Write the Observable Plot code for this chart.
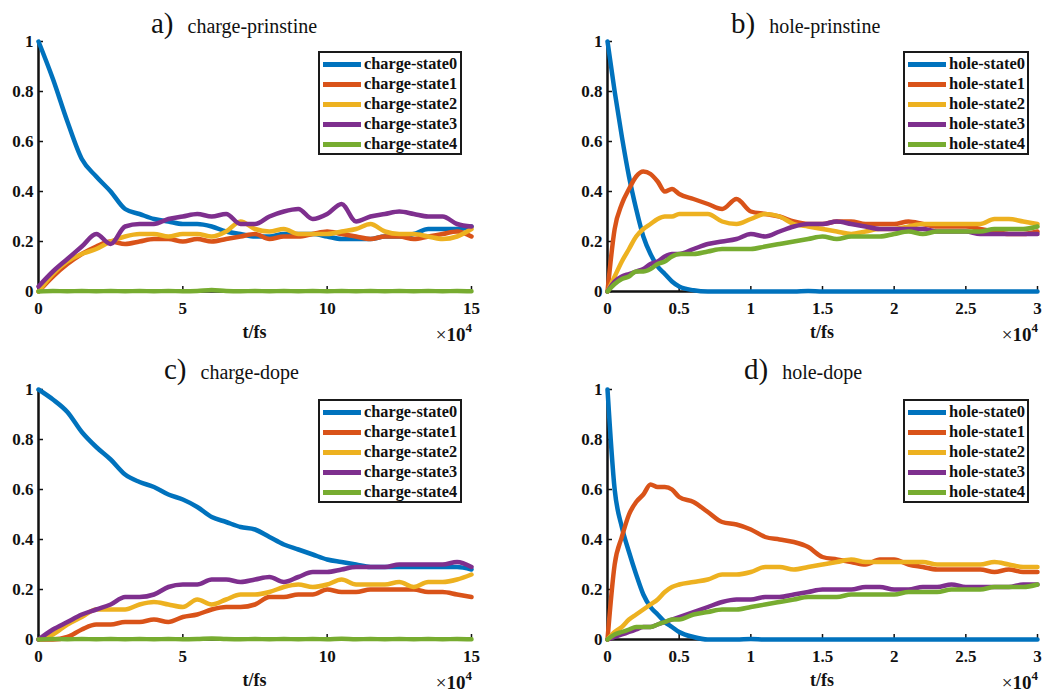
<!DOCTYPE html>
<html>
<head>
<meta charset="utf-8">
<script src="https://cdn.jsdelivr.net/npm/d3@7"></script>
<script src="https://cdn.jsdelivr.net/npm/@observablehq/plot@0.6"></script>
<style>
  html, body { margin: 0; padding: 0; background: #fff; }
  #root { position: relative; width: 1044px; height: 693px; background: #fff; overflow: hidden; }
  .panel { position: absolute; }
  .panel svg { overflow: visible; }
  .panel svg text { font-family: 'Liberation Serif', 'Times New Roman', serif !important; font-weight: bold !important; font-size: 17px !important; fill: #111; }
  .title { position: absolute; font-family: 'Liberation Serif', 'Times New Roman', serif; white-space: nowrap; color: #111; line-height: 30px; }
  .title .lab { font-size: 29px; }
  .title .name { font-size: 20px; margin-left: 14px; }
  .xlabel { position: absolute; font-family: 'Liberation Serif', serif; font-weight: bold; font-size: 18px; line-height: 20px; transform: translateX(-50%); color: #111; }
  .exp { position: absolute; font-family: 'Liberation Serif', serif; font-size: 19px; line-height: 12px; color: #111; font-weight: bold; white-space: nowrap; }
  .exp sup { font-size: 13px; line-height: 0; position: relative; top: -2px; }
  .legend { position: absolute; box-sizing: border-box; border: 2px solid #1a1a1a; background: #fff; padding-top: 1px; padding-left: 3px;
            font-family: 'Liberation Serif', serif; font-weight: bold; color: #111; }
  .legend .row { height: 20px; line-height: 20px; white-space: nowrap; display: flex; align-items: center; }
  .legend .sw { display: inline-block; width: 38px; height: 5px; margin-right: 3px; flex: none; }
</style>
</head>
<body>
<div id="root"></div>
<script>
// ---------------- data ----------------
const colors = ["#0072BD", "#D95319", "#EDB120", "#7E2F8E", "#77AC30"];
const chargeNames = ["charge-state0", "charge-state1", "charge-state2", "charge-state3", "charge-state4"];
const holeNames = ["hole-state0", "hole-state1", "hole-state2", "hole-state3", "hole-state4"];
const yTicks = [0, 0.2, 0.4, 0.6, 0.8, 1];
const chargeXTicks = [0, 5, 10, 15];
const holeXTicks = [0, 0.5, 1, 1.5, 2, 2.5, 3];

// time in units of 10^4 fs
const tCharge = [0,0.5,1,1.5,2,2.5,3,3.5,4,4.5,5,5.5,6,6.5,7,7.5,8,8.5,9,9.5,10,10.5,11,11.5,12,12.5,13,13.5,14,14.5,15];
const tHole = [0,0.05,0.1,0.15,0.2,0.25,0.3,0.35,0.4,0.45,0.5,0.6,0.7,0.8,0.9,1.0,1.1,1.2,1.3,1.4,1.5,1.6,1.7,1.8,1.9,2.0,2.1,2.2,2.3,2.4,2.5,2.6,2.7,2.8,2.9,3.0];

// a) charge-prinstine
const cp0 = [1.0,0.85,0.68,0.53,0.46,0.40,0.33,0.31,0.29,0.28,0.27,0.27,0.26,0.24,0.23,0.22,0.22,0.23,0.23,0.23,0.22,0.21,0.21,0.21,0.22,0.22,0.23,0.25,0.25,0.25,0.26];
const cp1 = [0,0.06,0.11,0.15,0.18,0.20,0.19,0.20,0.21,0.21,0.20,0.21,0.20,0.21,0.22,0.23,0.21,0.22,0.22,0.23,0.24,0.23,0.22,0.21,0.22,0.22,0.21,0.22,0.23,0.24,0.22];
const cp2 = [0,0.07,0.12,0.15,0.17,0.20,0.22,0.23,0.23,0.22,0.23,0.23,0.22,0.24,0.28,0.25,0.24,0.25,0.23,0.23,0.23,0.24,0.25,0.27,0.24,0.23,0.23,0.22,0.21,0.22,0.25];
const cp3 = [0.02,0.08,0.13,0.18,0.23,0.19,0.26,0.27,0.27,0.29,0.30,0.31,0.30,0.31,0.27,0.27,0.30,0.32,0.33,0.29,0.31,0.35,0.28,0.30,0.31,0.32,0.31,0.30,0.30,0.27,0.26];
const cp4 = [0,0.002,0.001,0.002,0.001,0.002,0.001,0.002,0.001,0.002,0.001,0.002,0.006,0.002,0.001,0.002,0.001,0.002,0.001,0.002,0.001,0.002,0.001,0.002,0.001,0.002,0.001,0.002,0.001,0.002,0.001];

// b) hole-prinstine
const hp0 = [1.0,0.80,0.62,0.46,0.33,0.22,0.15,0.10,0.07,0.04,0.02,0.005,0,0,0,0,0,0,0,0.002,0,0,0,0,0,0,0,0,0,0,0,0,0,0,0,0];
const hp1 = [0,0.25,0.35,0.41,0.46,0.48,0.47,0.44,0.40,0.41,0.39,0.37,0.35,0.33,0.37,0.32,0.31,0.30,0.28,0.27,0.27,0.28,0.28,0.27,0.27,0.27,0.28,0.27,0.26,0.26,0.26,0.25,0.24,0.23,0.23,0.24];
const hp2 = [0,0.06,0.12,0.17,0.22,0.25,0.27,0.29,0.30,0.30,0.31,0.31,0.31,0.28,0.27,0.29,0.31,0.30,0.27,0.26,0.25,0.24,0.23,0.24,0.25,0.25,0.26,0.27,0.27,0.27,0.27,0.27,0.29,0.29,0.28,0.27];
const hp3 = [0,0.04,0.06,0.07,0.08,0.09,0.11,0.12,0.14,0.15,0.15,0.17,0.19,0.20,0.21,0.23,0.22,0.24,0.26,0.27,0.27,0.28,0.27,0.26,0.25,0.25,0.25,0.25,0.24,0.24,0.24,0.23,0.23,0.23,0.23,0.23];
const hp4 = [0,0.03,0.05,0.06,0.08,0.08,0.09,0.11,0.12,0.14,0.15,0.15,0.16,0.17,0.17,0.17,0.18,0.19,0.20,0.21,0.22,0.21,0.22,0.22,0.22,0.23,0.24,0.23,0.24,0.24,0.24,0.24,0.25,0.25,0.25,0.26];

// c) charge-dope
const cd0 = [1.0,0.96,0.91,0.83,0.77,0.72,0.66,0.63,0.61,0.58,0.56,0.53,0.49,0.47,0.45,0.44,0.41,0.38,0.36,0.34,0.32,0.31,0.30,0.29,0.29,0.29,0.29,0.29,0.29,0.29,0.28];
const cd1 = [0,0,0.01,0.04,0.06,0.06,0.07,0.07,0.08,0.07,0.09,0.10,0.12,0.13,0.13,0.14,0.17,0.17,0.18,0.18,0.20,0.19,0.19,0.20,0.20,0.20,0.20,0.19,0.19,0.18,0.17];
const cd2 = [0,0.02,0.06,0.09,0.12,0.12,0.12,0.14,0.15,0.14,0.13,0.16,0.14,0.16,0.18,0.18,0.19,0.21,0.22,0.21,0.22,0.24,0.22,0.22,0.22,0.23,0.21,0.23,0.23,0.24,0.26];
const cd3 = [0,0.04,0.07,0.10,0.12,0.14,0.17,0.17,0.18,0.21,0.22,0.22,0.24,0.24,0.23,0.24,0.25,0.23,0.25,0.27,0.27,0.28,0.29,0.29,0.29,0.30,0.30,0.30,0.30,0.31,0.29];
const cd4 = [0,0.002,0.001,0.002,0.001,0.002,0.001,0.002,0.001,0.002,0.001,0.002,0.004,0.002,0.001,0.002,0.001,0.002,0.001,0.002,0.001,0.003,0.001,0.002,0.001,0.002,0.001,0.002,0.001,0.002,0.001];

// d) hole-dope
const hd0 = [1.0,0.60,0.45,0.35,0.26,0.18,0.13,0.10,0.07,0.05,0.03,0.01,0,0,0,0.002,0,0,0,0,0,0,0,0,0,0,0,0,0,0,0,0,0,0,0,0];
const hd1 = [0,0.30,0.41,0.50,0.55,0.58,0.62,0.61,0.61,0.60,0.57,0.55,0.51,0.47,0.46,0.44,0.41,0.40,0.39,0.37,0.33,0.32,0.31,0.30,0.32,0.32,0.30,0.29,0.28,0.28,0.28,0.28,0.27,0.28,0.27,0.27];
const hd2 = [0,0.03,0.05,0.08,0.10,0.12,0.14,0.16,0.19,0.21,0.22,0.23,0.24,0.26,0.26,0.27,0.29,0.29,0.28,0.29,0.30,0.31,0.32,0.31,0.31,0.31,0.31,0.31,0.30,0.30,0.30,0.30,0.31,0.30,0.29,0.29];
const hd3 = [0,0.01,0.02,0.03,0.04,0.05,0.05,0.06,0.07,0.08,0.09,0.11,0.13,0.15,0.16,0.16,0.17,0.17,0.18,0.19,0.20,0.20,0.20,0.21,0.21,0.20,0.20,0.21,0.21,0.22,0.21,0.21,0.21,0.21,0.22,0.22];
const hd4 = [0,0.02,0.03,0.04,0.05,0.05,0.05,0.06,0.07,0.08,0.08,0.10,0.11,0.12,0.12,0.13,0.14,0.15,0.16,0.17,0.17,0.17,0.18,0.18,0.18,0.18,0.19,0.19,0.19,0.20,0.20,0.20,0.21,0.21,0.21,0.22];

// ---------------- drawing ----------------
const root = document.getElementById("root");
const FONT = "'Liberation Serif', 'Times New Roman', serif";

function fmt(d) { return String(d); }

function drawPanel(cfg) {
  const txt = {fontFamily: FONT, fontSize: 17, fontWeight: "bold"};
  const plot = Plot.plot({
    width: cfg.width, height: 340,
    marginLeft: cfg.mL, marginRight: cfg.mR, marginTop: 41, marginBottom: 49,
    style: {fontFamily: FONT, fontSize: "17px", fontWeight: "bold", color: "#111", background: "transparent", overflow: "visible"},
    x: {domain: cfg.xDomain, ticks: cfg.xTicks},
    y: {domain: [0, 1], ticks: yTicks},
    marks: [
      Plot.axisX({ticks: cfg.xTicks, tickSize: 0, tickPadding: 10, tickFormat: fmt, label: null, ...txt}),
      Plot.axisX({ticks: cfg.xTicks, tickSize: -5, tickFormat: () => "", label: null, strokeWidth: 1.5}),
      Plot.axisY({ticks: yTicks, tickSize: 0, tickPadding: 5, tickFormat: fmt, label: null, ...txt}),
      Plot.axisY({ticks: yTicks, tickSize: -5, tickFormat: () => "", label: null, strokeWidth: 1.5}),
      Plot.ruleX([cfg.xDomain[0]], {stroke: "#111", strokeWidth: 2.5}),
      Plot.ruleY([0], {stroke: "#111", strokeWidth: 2.5}),
      ...cfg.series.map((vals, i) => Plot.line(cfg.times, {
        x: d => d, y: (d, j) => vals[j], stroke: colors[i], strokeWidth: 4.5,
        strokeLinejoin: "round", curve: "monotone-x"
      }))
    ]
  });
  const wrap = document.createElement("div");
  wrap.className = "panel";
  wrap.style.left = cfg.left + "px";
  wrap.style.top = cfg.top + "px";
  wrap.style.width = cfg.width + "px";
  wrap.appendChild(plot);
  root.appendChild(wrap);

  const plotLeft = cfg.left + cfg.mL;
  const plotRight = cfg.left + cfg.width - cfg.mR;

  // title
  const t = document.createElement("div");
  t.className = "title";
  t.style.left = cfg.titleLeft + "px";
  t.style.top = (cfg.top + cfg.titleDy) + "px";
  t.innerHTML = `<span class="lab">${cfg.lab}</span><span class="name">${cfg.name}</span>`;
  root.appendChild(t);

  // x label
  const xl = document.createElement("div");
  xl.className = "xlabel";
  xl.style.left = ((plotLeft + plotRight) / 2) + "px";
  xl.style.top = (cfg.top + 322) + "px";
  xl.textContent = "t/fs";
  root.appendChild(xl);

  // exponent
  const ex = document.createElement("div");
  ex.className = "exp";
  ex.style.right = (1044 - plotRight - 1) + "px";
  ex.style.top = (cfg.top + 329) + "px";
  ex.innerHTML = "<span style='font-weight:normal'>×</span>10<sup>4</sup>";
  root.appendChild(ex);

  // legend
  const lg = document.createElement("div");
  lg.className = "legend";
  lg.style.left = cfg.legLeft + "px";
  lg.style.top = (cfg.top + 51) + "px";
  lg.style.width = cfg.legWidth + "px";
  lg.style.height = "104px";
  lg.style.fontSize = cfg.legFont + "px";
  lg.innerHTML = cfg.names.map((n, i) =>
    `<div class="row"><span class="sw" style="background:${colors[i]}"></span>${n}</div>`).join("");
  root.appendChild(lg);
}

drawPanel({left: 0, top: 0, width: 520, mL: 38, mR: 49, xDomain: [0, 15], xTicks: chargeXTicks,
  times: tCharge, series: [cp0, cp1, cp2, cp3, cp4], names: chargeNames, titleDy: 8,
  lab: "a)", name: "charge-prinstine", titleLeft: 151, legLeft: 318, legWidth: 144, legFont: 16.3});
drawPanel({left: 520, top: 0, width: 524, mL: 87, mR: 7, xDomain: [0, 3], xTicks: holeXTicks,
  times: tHole, series: [hp0, hp1, hp2, hp3, hp4], names: holeNames, titleDy: 8,
  lab: "b)", name: "hole-prinstine", titleLeft: 731, legLeft: 903, legWidth: 126, legFont: 16.5});
drawPanel({left: 0, top: 348, width: 520, mL: 38, mR: 49, xDomain: [0, 15], xTicks: chargeXTicks,
  times: tCharge, series: [cd0, cd1, cd2, cd3, cd4], names: chargeNames, titleDy: 6,
  lab: "c)", name: "charge-dope", titleLeft: 164, legLeft: 318, legWidth: 144, legFont: 16.3});
drawPanel({left: 520, top: 348, width: 524, mL: 87, mR: 7, xDomain: [0, 3], xTicks: holeXTicks,
  times: tHole, series: [hd0, hd1, hd2, hd3, hd4], names: holeNames, titleDy: 6,
  lab: "d)", name: "hole-dope", titleLeft: 744, legLeft: 903, legWidth: 126, legFont: 16.5});
</script>
</body>
</html>
